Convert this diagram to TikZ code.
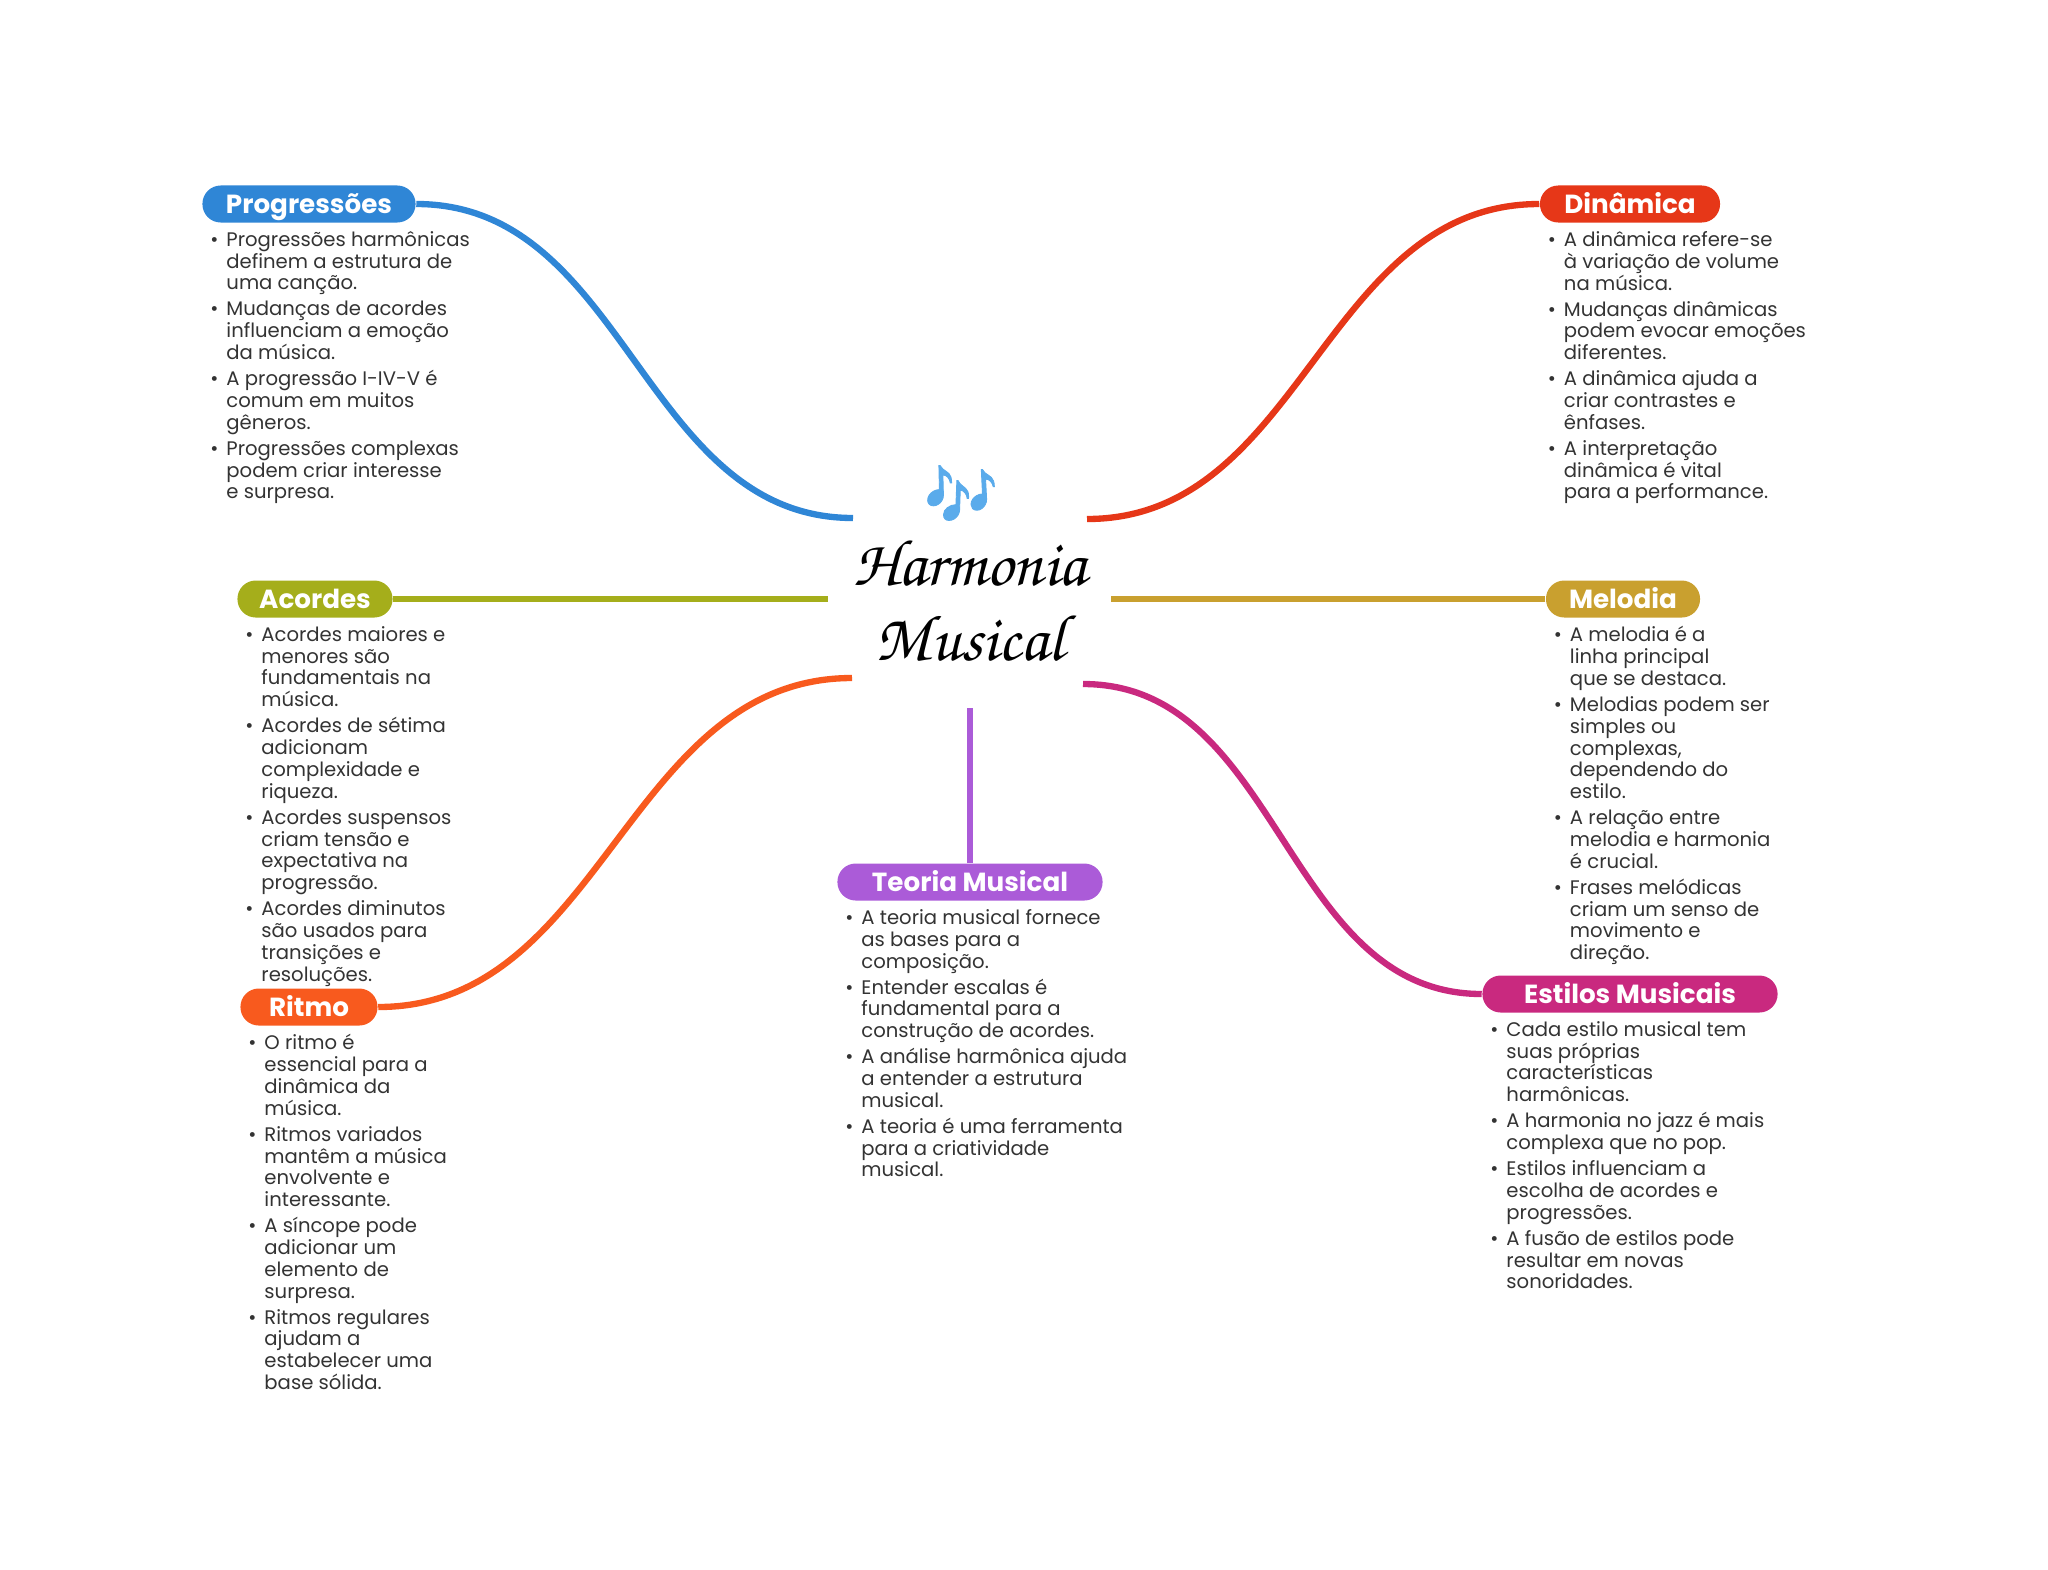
\documentclass[tikz,border=0pt]{standalone}
\usepackage{fontspec}
\setmainfont{Poppins}
\newfontfamily\emojifont[FakeBold=1.5]{Noto Emoji}
\usetikzlibrary{positioning}
\definecolor{progc}{HTML}{2F86D6}
\definecolor{dinc}{HTML}{E63718}
\definecolor{acoc}{HTML}{A5AE1B}
\definecolor{melc}{HTML}{C9A02F}
\definecolor{ritc}{HTML}{F85A1E}
\definecolor{teoc}{HTML}{AB5BD8}
\definecolor{estc}{HTML}{C9297F}
\definecolor{iconc}{HTML}{5AABEB}
\definecolor{notec}{HTML}{333333}
\newcommand{\bul}{\leavevmode\llap{\textbullet\hspace{2.3pt}}}
\tikzset{
  head/.style={fill=#1, rounded corners=5.2pt, text=white, font=\fontsize{7.45}{8}\selectfont\bfseries, minimum height=0.37cm, inner xsep=0pt, inner ysep=0pt, text height=6.5pt, text depth=1.3pt},
  notes/.style={align=left, text=notec, font=\fontsize{5.58}{6.2}\selectfont, inner sep=0pt},
  link/.style={draw=#1, line width=1.8pt},
}
\begin{document}
\begin{tikzpicture}[x=0.01cm,y=-0.01cm]
\useasboundingbox (0,0) rectangle (2048,1569);

\node[inner sep=0pt, text=iconc, font=\fontsize{17}{17}\selectfont\emojifont] (icon) at (961,493) {\symbol{"1F3B6}};
\node[inner sep=0pt, align=center, font=\fontsize{18.7}{21.5}\usefont{OT1}{pzc}{mb}{it}] (title) at (970,600) {Harmonia\\Musical};

\coordinate (progend) at (853,518);
\coordinate (dinend) at (1087,519);
\coordinate (acoend) at (828,599);
\coordinate (melend) at (1111,599);
\coordinate (ritend) at (852,678);
\coordinate (estend) at (1083,684);
\coordinate (teoend) at (970,708);

\node[head=progc, minimum width=2.13cm] (prog) at (309,204) {Progressões};
\node[head=dinc, minimum width=1.8cm] (din) at (1630,204) {Dinâmica};
\node[head=acoc, minimum width=1.55cm] (aco) at (315,599) {Acordes};
\node[head=melc, minimum width=1.54cm] (mel) at (1623,599) {Melodia};
\node[head=ritc, minimum width=1.37cm] (rit) at (309,1007) {Ritmo};
\node[head=teoc, minimum width=2.65cm] (teo) at (970,882) {Teoria Musical};
\node[head=estc, minimum width=2.95cm] (est) at (1630,994) {Estilos Musicais};

\node[notes, below right=0.075cm and 0.24cm of prog.south west] (prognotes) {%
\bul Progressões harmônicas\\definem a estrutura de\\uma canção.\\[1.2pt]
\bul Mudanças de acordes\\influenciam a emoção\\da música.\\[1.2pt]
\bul A progressão I-IV-V é\\comum em muitos\\gêneros.\\[1.2pt]
\bul Progressões complexas\\podem criar interesse\\e surpresa.};
\node[notes, below right=0.075cm and 0.24cm of din.south west] (dinnotes) {%
\bul A dinâmica refere-se\\à variação de volume\\na música.\\[1.2pt]
\bul Mudanças dinâmicas\\podem evocar emoções\\diferentes.\\[1.2pt]
\bul A dinâmica ajuda a\\criar contrastes e\\ênfases.\\[1.2pt]
\bul A interpretação\\dinâmica é vital\\para a performance.};
\node[notes, below right=0.075cm and 0.24cm of aco.south west] (aconotes) {%
\bul Acordes maiores e\\menores são\\fundamentais na\\música.\\[1.2pt]
\bul Acordes de sétima\\adicionam\\complexidade e\\riqueza.\\[1.2pt]
\bul Acordes suspensos\\criam tensão e\\expectativa na\\progressão.\\[1.2pt]
\bul Acordes diminutos\\são usados para\\transições e\\resoluções.};
\node[notes, below right=0.075cm and 0.24cm of mel.south west] (melnotes) {%
\bul A melodia é a\\linha principal\\que se destaca.\\[1.2pt]
\bul Melodias podem ser\\simples ou\\complexas,\\dependendo do\\estilo.\\[1.2pt]
\bul A relação entre\\melodia e harmonia\\é crucial.\\[1.2pt]
\bul Frases melódicas\\criam um senso de\\movimento e\\direção.};
\node[notes, below right=0.075cm and 0.24cm of rit.south west] (ritnotes) {%
\bul O ritmo é\\essencial para a\\dinâmica da\\música.\\[1.2pt]
\bul Ritmos variados\\mantêm a música\\envolvente e\\interessante.\\[1.2pt]
\bul A síncope pode\\adicionar um\\elemento de\\surpresa.\\[1.2pt]
\bul Ritmos regulares\\ajudam a\\estabelecer uma\\base sólida.};
\node[notes, below right=0.075cm and 0.24cm of teo.south west] (teonotes) {%
\bul A teoria musical fornece\\as bases para a\\composição.\\[1.2pt]
\bul Entender escalas é\\fundamental para a\\construção de acordes.\\[1.2pt]
\bul A análise harmônica ajuda\\a entender a estrutura\\musical.\\[1.2pt]
\bul A teoria é uma ferramenta\\para a criatividade\\musical.};
\node[notes, below right=0.075cm and 0.24cm of est.south west] (estnotes) {%
\bul Cada estilo musical tem\\suas próprias\\características\\harmônicas.\\[1.2pt]
\bul A harmonia no jazz é mais\\complexa que no pop.\\[1.2pt]
\bul Estilos influenciam a\\escolha de acordes e\\progressões.\\[1.2pt]
\bul A fusão de estilos pode\\resultar em novas\\sonoridades.};

\draw[link=progc] (prog.east) to[out=0,in=180] (progend);
\draw[link=dinc] (din.west) to[out=180,in=0] (dinend);
\draw[link=acoc] (aco.east) -- (acoend);
\draw[link=melc] (mel.west) -- (melend);
\draw[link=ritc] (rit.east) to[out=0,in=180] (ritend);
\draw[link=estc] (est.west) to[out=180,in=0] (estend);
\draw[link=teoc] (teo.north) -- (teoend);

\end{tikzpicture}
\end{document}
